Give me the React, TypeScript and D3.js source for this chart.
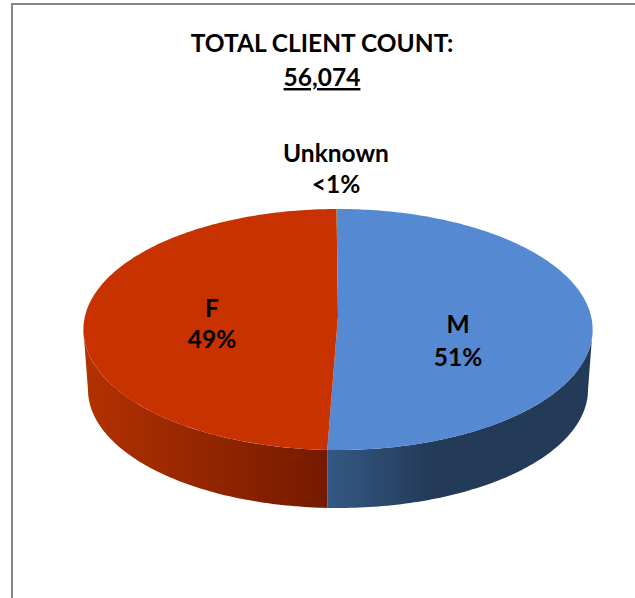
import React from 'react';
import * as d3 from 'd3';

const categories = ['M', 'F', 'Unknown'];
const shares = [50.6, 49.3, 0.1];
const valueLabels = ['51%', '49%', '<1%'];
const topColors = ['#5589d2', '#c83200', '#7f9a3c'];
const titleLines = ['TOTAL CLIENT COUNT:', '56,074'];

const width = 635;
const height = 598;

// tilted disc: the pie centre sits above the middle of the drawn ellipse
const centerX = 338;
const centerY = 316;
const scaleX = 253;
const scaleY = 119;
const tilt = 0.112;
const depth = 60.4;
const baseShrink = 0.982;

const project = (angle: number, base = false): [number, number] => {
    const w = 1 + tilt * Math.cos(angle);
    const s = base ? baseShrink : 1;
    return [
        centerX + (s * scaleX * Math.sin(angle)) / w,
        centerY + (base ? depth : 0) - (s * scaleY * Math.cos(angle)) / w,
    ];
};

const arcAngles = (a0: number, a1: number) => {
    const n = Math.max(2, Math.ceil((a1 - a0) * 60));
    return d3.range(n + 1).map(i => a0 + ((a1 - a0) * i) / n);
};

const line = d3.line<[number, number]>();

const App = () => {
    const slices = d3.pie<number>().sort(null)(shares);

    // the wall is visible between the two silhouette points
    const wallStart = Math.acos(-tilt);
    const wallEnd = 2 * Math.PI - wallStart;
    const mEnd = slices[0].endAngle;

    const topPath = (s: d3.PieArcDatum<number>) =>
        line([[centerX, centerY], ...arcAngles(s.startAngle, s.endAngle).map(a => project(a))])! + 'Z';

    const wallPath = (a0: number, a1: number) =>
        line([
            ...arcAngles(a0, a1).map(a => project(a)),
            ...arcAngles(a0, a1).reverse().map(a => project(a, true)),
        ])! + 'Z';

    const textProps = {
        fontFamily: 'Lato, Carlito, sans-serif',
        fontWeight: 700,
        fontSize: 24.5,
        fill: '#000',
        textAnchor: 'middle' as const,
    };

    return (
        <svg width={width} height={height} style={{ position: 'absolute', left: 0, top: 0 }}>
            <defs>
                <linearGradient id="wallF" gradientUnits="userSpaceOnUse" x1={88} x2={327} y1={0} y2={0}>
                    <stop offset="0" stopColor="#b23100" />
                    <stop offset="1" stopColor="#741a00" />
                </linearGradient>
                <linearGradient id="wallM" gradientUnits="userSpaceOnUse" x1={327} x2={587} y1={0} y2={0}>
                    <stop offset="0" stopColor="#345985" />
                    <stop offset="0.4" stopColor="#233a58" />
                    <stop offset="1" stopColor="#233a58" />
                </linearGradient>
            </defs>
            <rect x={12} y={4} width={width + 20} height={height + 20} fill="#fff" stroke="#868686" strokeWidth={2} />

            <path d={wallPath(wallStart, mEnd)} fill="url(#wallM)" />
            <path d={wallPath(mEnd, wallEnd)} fill="url(#wallF)" />

            {slices.map((s, i) => (
                <path key={categories[i]} d={topPath(s)} fill={topColors[i]} />
            ))}

            <text {...textProps} x={322} y={52}>{titleLines[0]}</text>
            <text {...textProps} x={322} y={86} textDecoration="underline">{titleLines[1]}</text>

            <text {...textProps} x={336} y={162}>{categories[2]}</text>
            <text {...textProps} x={336} y={193}>{valueLabels[2]}</text>
            <text {...textProps} x={212} y={317}>{categories[1]}</text>
            <text {...textProps} x={212} y={348}>{valueLabels[1]}</text>
            <text {...textProps} x={458} y={333}>{categories[0]}</text>
            <text {...textProps} x={458} y={366}>{valueLabels[0]}</text>
        </svg>
    );
};

export default App;
